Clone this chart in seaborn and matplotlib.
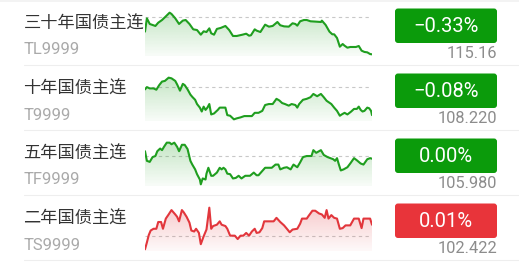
import numpy as np
import pandas as pd
import matplotlib
matplotlib.use("Agg")
import matplotlib.pyplot as plt
from matplotlib.patches import FancyBboxPatch, Rectangle
from matplotlib.lines import Line2D
import seaborn as sns

# ---------------- data ----------------
names = ["三十年国债主连", "十年国债主连", "五年国债主连", "二年国债主连"]
codes = ["TL9999", "T9999", "TF9999", "TS9999"]
changes = ["−0.33%", "−0.08%", "0.00%", "0.01%"]
prices = ["115.16", "108.220", "105.980", "102.422"]
prev_close = [115.54, 108.307, 105.985, 102.412]
direction = ["down", "down", "down", "up"]

tl_min = [0, 2, 5, 11, 14, 18, 21, 26, 28, 32, 36, 40, 43, 47, 51, 55, 59, 62, 65, 68, 70, 73, 76, 80, 85, 89,
          93, 97, 103, 107, 110, 112, 116, 118, 122, 127, 131, 135, 140, 143, 147, 152, 156, 159, 161, 164, 168,
          171, 175, 180, 186, 187, 191, 195, 198, 200, 203, 206, 209, 211, 214, 217, 223, 226, 229, 232, 235, 238, 240]
tl_val = [115.389, 115.523, 115.466, 115.446, 115.479, 115.506, 115.533, 115.580, 115.567, 115.523, 115.466,
          115.500, 115.506, 115.466, 115.412, 115.405, 115.358, 115.392, 115.385, 115.422, 115.372, 115.358,
          115.416, 115.426, 115.446, 115.405, 115.345, 115.345, 115.358, 115.368, 115.348, 115.352, 115.412,
          115.399, 115.385, 115.459, 115.439, 115.446, 115.486, 115.453, 115.442, 115.439, 115.473, 115.466,
          115.449, 115.493, 115.506, 115.506, 115.493, 115.490, 115.486, 115.500, 115.456, 115.389, 115.362,
          115.362, 115.325, 115.237, 115.264, 115.247, 115.227, 115.234, 115.234, 115.244, 115.197, 115.184,
          115.180, 115.163, 115.160]

t_min = [0, 2, 5, 9, 12, 15, 18, 21, 25, 28, 32, 34, 37, 40, 42, 45, 48, 50, 53, 55, 58, 60, 62, 64, 66, 68, 70,
         73, 77, 79, 85, 87, 90, 94, 97, 101, 105, 109, 113, 116, 120, 124, 127, 131, 135, 139, 142, 145, 148, 152,
         155, 159, 161, 163, 167, 171, 175, 178, 182, 186, 189, 192, 197, 200, 203, 206, 208, 211, 214, 218, 221,
         224, 226, 228, 230, 232, 235, 237, 239, 240]
t_val = [108.299, 108.306, 108.302, 108.302, 108.298, 108.312, 108.323, 108.325, 108.335, 108.333, 108.325,
         108.314, 108.295, 108.316, 108.312, 108.299, 108.283, 108.276, 108.267, 108.254, 108.243, 108.231,
         108.246, 108.236, 108.243, 108.254, 108.222, 108.225, 108.236, 108.243, 108.243, 108.220, 108.218,
         108.207, 108.210, 108.213, 108.217, 108.217, 108.217, 108.227, 108.227, 108.233, 108.251, 108.254,
         108.254, 108.270, 108.265, 108.257, 108.254, 108.249, 108.254, 108.251, 108.243, 108.254, 108.267,
         108.270, 108.275, 108.285, 108.278, 108.285, 108.275, 108.264, 108.254, 108.243, 108.233, 108.218,
         108.222, 108.227, 108.222, 108.231, 108.239, 108.239, 108.246, 108.236, 108.231, 108.233, 108.243,
         108.241, 108.233, 108.220]

tf_min = [0, 2, 5, 8, 11, 13, 16, 18, 20, 23, 26, 28, 31, 34, 36, 39, 42, 45, 48, 50, 53, 55, 58, 59, 61, 64, 65,
          67, 70, 72, 76, 79, 81, 83, 85, 87, 90, 93, 96, 99, 102, 106, 111, 115, 118, 120, 124, 127, 134, 138, 141,
          143, 147, 150, 154, 157, 161, 164, 167, 171, 176, 178, 181, 184, 186, 189, 193, 196, 199, 201, 203, 205,
          207, 210, 214, 217, 221, 224, 228, 231, 235, 238, 240]
tf_val = [105.994, 105.976, 105.974, 105.983, 105.985, 105.994, 105.999, 105.996, 106.002, 106.010, 106.010,
          106.007, 106.010, 106.002, 105.994, 106.006, 106.006, 105.998, 105.976, 105.969, 105.960, 105.951,
          105.941, 105.932, 105.943, 105.941, 105.952, 105.963, 105.948, 105.948, 105.954, 105.963, 105.960,
          105.963, 105.960, 105.952, 105.951, 105.943, 105.944, 105.948, 105.943, 105.948, 105.948, 105.954,
          105.949, 105.949, 105.957, 105.963, 105.963, 105.969, 105.969, 105.960, 105.963, 105.964, 105.960,
          105.969, 105.964, 105.973, 105.983, 105.985, 105.985, 105.996, 105.991, 105.994, 105.996, 105.987,
          105.983, 105.981, 105.979, 105.976, 105.981, 105.969, 105.958, 105.960, 105.964, 105.971, 105.981,
          105.977, 105.971, 105.969, 105.979, 105.981, 105.980]

ts_min = [0, 2, 4, 6, 9, 12, 14, 17, 19, 22, 25, 28, 32, 34, 36, 39, 41, 44, 47, 49, 52, 54, 57, 59, 62, 65, 68,
          70, 72, 76, 79, 81, 85, 87, 90, 95, 98, 101, 104, 107, 110, 113, 116, 118, 121, 124, 126, 131, 136, 139,
          143, 147, 150, 153, 156, 161, 164, 166, 171, 173, 177, 180, 184, 187, 190, 192, 194, 197, 200, 203, 206,
          209, 212, 217, 221, 226, 229, 231, 238, 240]
ts_val = [102.3995, 102.4058, 102.4126, 102.4167, 102.4183, 102.4183, 102.4245, 102.4245, 102.4183, 102.4276,
          102.4314, 102.4354, 102.4314, 102.4292, 102.4251, 102.4354, 102.4333, 102.4292, 102.4239, 102.4167,
          102.4158, 102.4183, 102.4145, 102.4042, 102.4114, 102.4176, 102.4376, 102.4183, 102.4208, 102.4220,
          102.4251, 102.4220, 102.4208, 102.4183, 102.4120, 102.4120, 102.4089, 102.4120, 102.4120, 102.4145,
          102.4120, 102.4158, 102.4183, 102.4145, 102.4151, 102.4189, 102.4251, 102.4251, 102.4251, 102.4283,
          102.4245, 102.4214, 102.4183, 102.4151, 102.4176, 102.4183, 102.4229, 102.4276, 102.4276, 102.4301,
          102.4348, 102.4348, 102.4323, 102.4314, 102.4283, 102.4354, 102.4276, 102.4308, 102.4283, 102.4276,
          102.4183, 102.4189, 102.4214, 102.4214, 102.4276, 102.4276, 102.4189, 102.4276, 102.4276, 102.4220]

series_min = [tl_min, t_min, tf_min, ts_min]
series_val = [tl_val, t_val, tf_val, ts_val]

# ---------------- style ----------------
sns.set_style("white")
plt.rcParams["font.family"] = ["Noto Sans CJK SC", "DejaVu Sans"]

GREEN_LINE = "#1f9e1f"
GREEN_BADGE = "#0b9b0b"
RED_LINE = "#e2363c"
RED_BADGE = "#e8343a"

W, H = 519, 262
fig = plt.figure(figsize=(W / 100, H / 100), dpi=100)
fig.patch.set_facecolor("white")

# overlay axes in pixel coordinates
ov = fig.add_axes([0, 0, 1, 1], zorder=0)
ov.set_xlim(0, W)
ov.set_ylim(H, 0)
ov.axis("off")
ov.add_patch(Rectangle((0, 0), W, 2, facecolor="#f3f3f3", edgecolor="none"))

ROW_H = 65
num_font = ["Roboto", "DejaVu Sans"]

for i in range(4):
    top = ROW_H * i
    up = direction[i] == "up"
    lc = RED_LINE if up else GREEN_LINE
    bc = RED_BADGE if up else GREEN_BADGE

    # separator
    ov.add_line(Line2D([24, W], [top + 65, top + 65], color="#eeeeee", lw=0.8))

    # texts
    ov.text(23.5, top + 24, names[i], fontsize=12.4, color="#333333",
            va="center", ha="left", family=["Noto Sans CJK SC", "DejaVu Sans"])
    ov.text(23.5, top + 50, codes[i], fontsize=12.0, color="#aaaaaa",
            va="center", ha="left", family=num_font)

    # badge
    ov.add_patch(FancyBboxPatch((395, top + 8.5), 102, 34.5,
                                boxstyle="round,pad=0,rounding_size=3",
                                facecolor=bc, edgecolor="none"))
    ov.text(446, top + 26.5, changes[i], fontsize=14.5, color="white",
            va="center", ha="center", family=num_font)
    ov.text(497, top + 53.5, prices[i], fontsize=11.8, color="#8c8c8c",
            va="center", ha="right", family=num_font)

    # sparkline chart
    ax_top = top + 11
    ax_bot = top + 56
    ax = fig.add_axes([145 / W, 1 - ax_bot / H, (372 - 145) / W, (ax_bot - ax_top) / H], zorder=2)
    ax.patch.set_alpha(0)
    df = pd.DataFrame({"minute": series_min[i], "price": series_val[i]})
    sns.lineplot(data=df, x="minute", y="price", ax=ax, color=lc, lw=1.5, zorder=3)
    vmin, vmax = df["price"].min(), df["price"].max()
    rng = vmax - vmin
    y0, y1 = vmin - 0.04 * rng, vmax + 0.04 * rng
    ax.set_xlim(0, 240)
    ax.set_ylim(y0, y1)
    ax.axhline(prev_close[i], color="#c8c8c8", lw=0.8, ls=(0, (3, 3)), zorder=1)

    # gradient fill below line
    poly = ax.fill_between(df["minute"], df["price"], y0, facecolor="none", edgecolor="none")
    rgb = matplotlib.colors.to_rgb(lc)
    n = 100
    grad = np.zeros((n, 1, 4))
    grad[:, 0, :3] = rgb
    grad[:, 0, 3] = np.linspace(0.26, 0.03, n)
    im = ax.imshow(grad, extent=[0, 240, y0, vmax], origin="upper", aspect="auto", zorder=2,
                   interpolation="bilinear")
    path = poly.get_paths()[0]
    im.set_clip_path(path, transform=ax.transData)

    ax.set_xlabel("")
    ax.set_ylabel("")
    ax.set_xticks([])
    ax.set_yticks([])
    for s in ax.spines.values():
        s.set_visible(False)

fig.savefig("out.png", dpi=100, facecolor="white")
